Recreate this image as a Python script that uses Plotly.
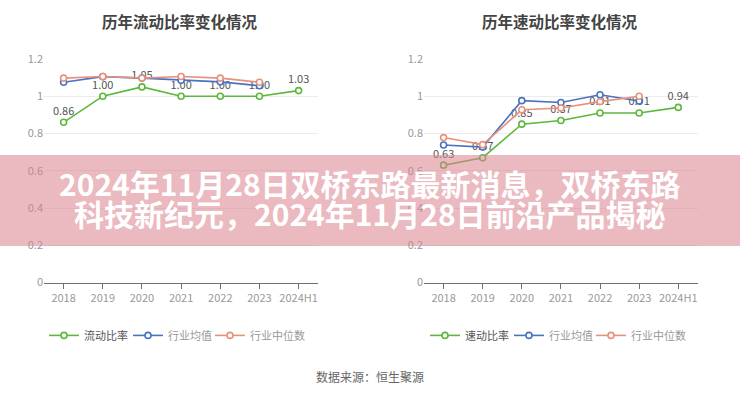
import plotly.graph_objects as go

years = ["2018", "2019", "2020", "2021", "2022", "2023", "2024H1"]
years_ind = ["2018", "2019", "2020", "2021", "2022", "2023"]

current_ratio = [0.86, 1.00, 1.05, 1.00, 1.00, 1.00, 1.03]
current_ind_mean = [1.075, 1.105, 1.097, 1.085, 1.077, 1.056]
current_ind_median = [1.097, 1.106, 1.097, 1.106, 1.097, 1.075]

quick_ratio = [0.63, 0.67, 0.85, 0.87, 0.91, 0.91, 0.94]
quick_ind_mean = [0.738, 0.727, 0.976, 0.966, 1.008, 0.974]
quick_ind_median = [0.778, 0.740, 0.927, 0.937, 0.971, 1.000]

titles = ["历年流动比率变化情况", "历年速动比率变化情况"]
main_names = ["流动比率", "速动比率"]
ind_names = ["行业均值", "行业中位数"]
yticks = [0, 0.2, 0.4, 0.6, 0.8, 1, 1.2]
ytick_text = ["0", "0.2", "0.4", "0.6", "0.8", "1", "1.2"]
banner_lines = ["2024年11月28日双桥东路最新消息，双桥东路", "科技新纪元，2024年11月28日前沿产品揭秘"]
source_text = "数据来源：恒生聚源"

GREEN = "#5cb83c"
BLUE = "#4a72c2"
ORANGE = "#e8917a"
FONT = "Noto Sans CJK SC"

W, H = 740, 400

fig = go.Figure()

panels = [
    (current_ratio, current_ind_mean, current_ind_median, "x", "y", [0.0595, 0.43], [86, 170, 252]),
    (quick_ratio, quick_ind_mean, quick_ind_median, "x2", "y2", [0.573, 0.943], [467, 551, 633]),
]

legend_layouts = {}
lg_idx = 0
for i, (main, mean, med, xa, ya, dom, text_x) in enumerate(panels):
    series = [
        (years, main, main_names[i], GREEN, True),
        (years_ind, mean, f"<span style='color:#999999'>{ind_names[0]}</span>", BLUE, False),
        (years_ind, med, f"<span style='color:#999999'>{ind_names[1]}</span>", ORANGE, False),
    ]
    for k, (xs, ys, name, color, labeled) in enumerate(series):
        lg_idx += 1
        lg_name = "legend" if lg_idx == 1 else f"legend{lg_idx}"
        kw = {}
        if labeled:
            kw = dict(text=[f"{v:.2f}" for v in ys], textposition="top center",
                      textfont=dict(size=11, color="#555555", family=FONT))
        fig.add_trace(go.Scatter(
            x=xs, y=ys, name=name,
            mode="lines+markers+text" if labeled else "lines+markers",
            line=dict(color=color, width=1.6),
            marker=dict(symbol="circle", size=6, color="white", line=dict(color=color, width=1.6)),
            xaxis=xa, yaxis=ya, legend=lg_name, cliponaxis=False, **kw,
        ))
        legend_layouts[lg_name] = dict(
            orientation="h", x=(text_x[k] - 42) / W, y=1 - 340 / H,
            xanchor="left", yanchor="middle",
            font=dict(size=11, color="#555555", family=FONT), itemwidth=30,
            bgcolor="rgba(0,0,0,0)", borderwidth=0,
        )

xaxis_common = dict(
    type="category", categoryorder="array", categoryarray=years,
    range=[-0.5, 6.5], showgrid=False, zeroline=False,
    showline=True, linecolor="#6e7079", linewidth=1,
    ticks="outside", ticklen=5, tickcolor="#6e7079",
    tickfont=dict(size=11, color="#999999", family=FONT),
    fixedrange=True,
)
yaxis_common = dict(
    range=[0, 1.2], tickvals=yticks, ticktext=ytick_text,
    showgrid=True, gridcolor="#ececec", gridwidth=1, zeroline=False,
    showline=False, ticks="",
    tickfont=dict(size=11, color="#999999", family=FONT),
    domain=[1 - 285 / H, 1 - 52 / H], fixedrange=True,
)

fig.update_layout(
    width=W, height=H, autosize=False,
    margin=dict(l=0, r=0, t=0, b=0),
    paper_bgcolor="white", plot_bgcolor="white",
    font=dict(family=FONT),
    xaxis=dict(xaxis_common, domain=panels[0][5], anchor="y"),
    yaxis=dict(yaxis_common, anchor="x"),
    xaxis2=dict(xaxis_common, domain=panels[1][5], anchor="y2"),
    yaxis2=dict(yaxis_common, anchor="x2"),
    showlegend=True,
    **legend_layouts,
)

annotations = []
for i, cx in enumerate([180 / W, 560 / W]):
    annotations.append(dict(
        text=f"<b>{titles[i]}</b>", x=cx, y=1 - 13 / H, xref="paper", yref="paper",
        xanchor="center", yanchor="middle", showarrow=False,
        font=dict(size=15.5, color="#444444", family=FONT),
    ))
annotations.append(dict(
    text=source_text, x=370 / W, y=1 - 383 / H, xref="paper", yref="paper",
    xanchor="center", yanchor="middle", showarrow=False,
    font=dict(size=12, color="#666666", family=FONT),
))
for line, cy in zip(banner_lines, [181, 213]):
    annotations.append(dict(
        text=f"<b>{line}</b>", x=0.5, y=1 - cy / H, xref="paper", yref="paper",
        xanchor="center", yanchor="middle", showarrow=False,
        font=dict(size=30, color="white", family=FONT),
    ))
fig.update_layout(annotations=annotations)

fig.add_shape(type="rect", xref="paper", yref="paper",
              x0=0, x1=1, y0=1 - 247 / H, y1=1 - 152 / H,
              fillcolor="rgba(218,128,140,0.55)", line=dict(width=0), layer="above")

fig.write_html("out.html")
